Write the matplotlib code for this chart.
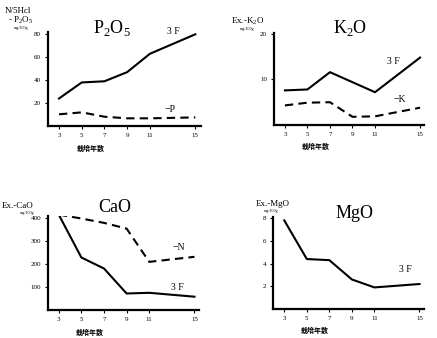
import matplotlib
matplotlib.use("Agg")
import matplotlib.pyplot as plt

plt.rcParams['font.family'] = ['Liberation Serif', 'Noto Sans CJK JP']
plt.rcParams['mathtext.fontset'] = 'custom'
plt.rcParams['mathtext.rm'] = 'Liberation Serif'

years = [3, 5, 7, 9, 11, 15]
year_labels = ['3', '5', '7', '9', '11', '15']
xlabel = '栽培年数'

# P2O5 (N/5 HCl, mg)
p_3f = [24, 38, 39, 47, 63, 80]
p_minus = [10.2, 11.9, 8.1, 6.7, 6.7, 7.5]
# K2O (Ex.)
k_3f = [7.6, 7.8, 11.6, 9.4, 7.2, 14.8]
k_minus = [4.3, 4.9, 5.0, 1.8, 1.9, 3.8]
# CaO (Ex.)
ca_3f = [416, 229, 181, 72, 75, 58]
ca_minus_n = [416, 399, 380, 355, 210, 232]
# MgO (Ex.)
mg_3f = [7.8, 4.4, 4.3, 2.6, 1.9, 2.2]

W, H = 437, 338
fig = plt.figure(figsize=(W / 100, H / 100), dpi=100, facecolor='w')


def make_ax(left, bottom, width, height):
    # pixel box (from top-left) -> figure fraction
    return fig.add_axes([left / W, 1 - bottom / H, width / W, height / H])


def style(ax, xlim, ylim, yticks, ylabels):
    ax.set_xlim(*xlim)
    ax.set_ylim(*ylim)
    for s in ['top', 'right']:
        ax.spines[s].set_visible(False)
    for s in ['left', 'bottom']:
        ax.spines[s].set_linewidth(1.6)
    ax.set_xticks(years)
    ax.set_xticklabels(year_labels)
    ax.set_yticks(yticks)
    ax.set_yticklabels(ylabels)
    ax.tick_params(direction='out', length=2, width=0.8, labelsize=5, pad=3)
    ax.text(0.28, -0.2, xlabel, transform=ax.transAxes, fontsize=5,
            fontweight='bold', ha='center', va='top',
            family=['Noto Sans CJK JP'])


lw = 1.5
dash = (0, (4, 2.5))

# P2O5
ax0 = make_ax(48, 126, 153, 94)
style(ax0, (2.03, 15.5), (0, 82), [20, 40, 60, 80], ['20', '40', '60', '80'])
ax0.plot(years, p_3f, '-k', lw=lw)
ax0.plot(years, p_minus, color='k', ls=dash, lw=lw)
fig.text(112 / W, 1 - 28 / H, r'$\mathrm{P}_2\mathrm{O}_5$', fontsize=13, ha='center', va='center')
fig.text(173 / W, 1 - 32 / H, '3 F', fontsize=7, ha='center', va='center')
fig.text(170 / W, 1 - 110 / H, '−P', fontsize=7, ha='center', va='center')
fig.text(5 / W, 1 - 11 / H, 'N/5Hcl', fontsize=6.5, ha='left', va='center')
fig.text(8 / W, 1 - 20 / H, r'- $\mathrm{P}_2\mathrm{O}_5$', fontsize=6.5, ha='left', va='center')
fig.text(14 / W, 1 - 28 / H, 'mg/100g', fontsize=3, ha='left', va='center')

# K2O
ax1 = make_ax(274, 125, 150, 92)
style(ax1, (2.03, 15.35), (0, 20.2), [10, 20], ['10', '20'])
ax1.plot(years, k_3f, '-k', lw=lw)
ax1.plot(years, k_minus, color='k', ls=dash, lw=lw)
fig.text(350 / W, 1 - 28 / H, r'$\mathrm{K}_2\mathrm{O}$', fontsize=13, ha='center', va='center')
fig.text(393 / W, 1 - 61 / H, '3 F', fontsize=7, ha='center', va='center')
fig.text(400 / W, 1 - 99 / H, '−K', fontsize=7, ha='center', va='center')
fig.text(231 / W, 1 - 21 / H, r'Ex.-$\mathrm{K}_2\mathrm{O}$', fontsize=6.5, ha='left', va='center')
fig.text(240 / W, 1 - 29 / H, 'mg/100g', fontsize=3, ha='left', va='center')

# CaO
ax2 = make_ax(48, 310, 151, 94)
style(ax2, (2.05, 15.4), (0, 410), [100, 200, 300, 400], ['100', '200', '300', '400'])
ax2.plot(years, ca_3f, '-k', lw=lw)
ax2.plot(years, ca_minus_n, color='k', ls=dash, lw=lw)
fig.text(115 / W, 1 - 207 / H, 'CaO', fontsize=13, ha='center', va='center')
fig.text(177 / W, 1 - 288 / H, '3 F', fontsize=7, ha='center', va='center')
fig.text(179 / W, 1 - 248 / H, '−N', fontsize=7, ha='center', va='center')
fig.text(2 / W, 1 - 206 / H, 'Ex.-CaO', fontsize=6.5, ha='left', va='center')
fig.text(20 / W, 1 - 213 / H, 'mg/100g', fontsize=3, ha='left', va='center')

# MgO
ax3 = make_ax(273, 309, 151, 92)
style(ax3, (2.0, 15.4), (0, 8.1), [2, 4, 6, 8], ['2', '4', '6', '8'])
ax3.plot(years, mg_3f, '-k', lw=lw)
fig.text(355 / W, 1 - 213 / H, 'MgO', fontsize=13, ha='center', va='center')
fig.text(405 / W, 1 - 270 / H, '3 F', fontsize=7, ha='center', va='center')
fig.text(256 / W, 1 - 204 / H, 'Ex.-MgO', fontsize=6.5, ha='left', va='center')
fig.text(264 / W, 1 - 211 / H, 'mg/100g', fontsize=3, ha='left', va='center')

plt.savefig('out.png', dpi=100)
